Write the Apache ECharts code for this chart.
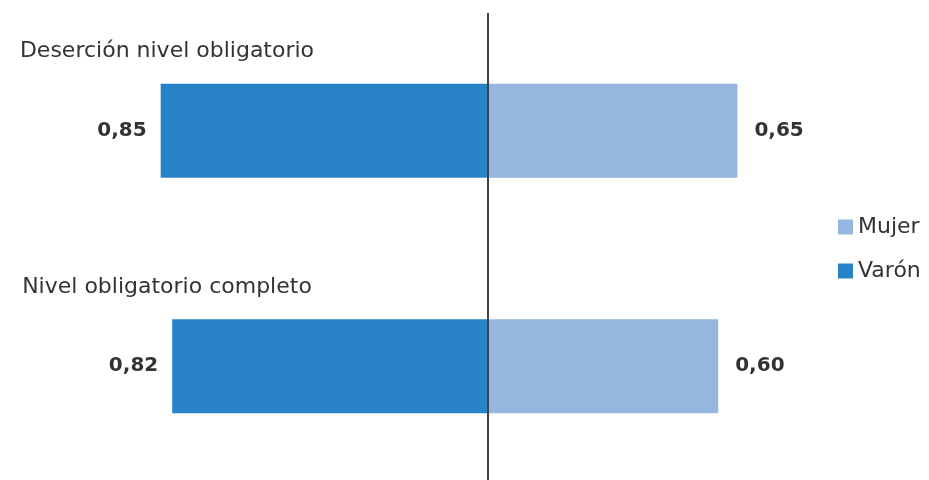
<!DOCTYPE html>
<html>
<head>
<meta charset="utf-8">
<style>html,body{margin:0;padding:0;background:#fff;overflow:hidden}#c{width:929px;height:490px}</style>
<script src="https://cdn.jsdelivr.net/npm/echarts@6/dist/echarts.min.js"></script>
</head>
<body>
<div id="c"></div>
<script>
const categories = ['Deserción nivel obligatorio', 'Nivel obligatorio completo'];
const varon = [0.85, 0.82];
const mujer = [0.65, 0.60];
const seriesNames = ['Mujer', 'Varón'];

const FONT = 'DejaVu Sans';
const fmt = v => Math.abs(v).toFixed(2).replace('.', ',');

const chart = echarts.init(document.getElementById('c'));
chart.setOption({
  animation: false,
  textStyle: { fontFamily: FONT },
  grid: { left: 103, width: 769, top: 13, height: 471, containLabel: false },
  legend: {
    orient: 'vertical', left: 838, top: 216, padding: 0,
    data: seriesNames,
    itemWidth: 15, itemHeight: 15, itemGap: 22,
    icon: 'rect',
    textStyle: { fontSize: 22, color: '#333', fontFamily: FONT }
  },
  xAxis: {
    type: 'value', min: -1, max: 1,
    show: false
  },
  yAxis: {
    type: 'category', inverse: true, data: categories,
    axisLine: { show: false }, axisTick: { show: false },
    axisLabel: {
      margin: -64, align: 'center', verticalAlign: 'bottom',
      padding: [0, 0, 68, 0],
      fontSize: 22, color: '#333', fontFamily: FONT
    }
  },
  series: [
    {
      name: 'Varón', type: 'bar', barWidth: 94, barGap: '-100%',
      data: varon.map(v => -v),
      itemStyle: { color: '#2882C8' },
      label: { show: true, position: 'left', distance: 14, formatter: p => fmt(p.value),
        fontSize: 20, fontWeight: 'bold', color: '#333', fontFamily: FONT },
      markLine: {
        silent: true, symbol: 'none', label: { show: false },
        lineStyle: { color: '#444', width: 2, type: 'solid' },
        data: [{ xAxis: 0 }]
      }
    },
    {
      name: 'Mujer', type: 'bar', barWidth: 94,
      data: mujer,
      itemStyle: { color: '#96B6E0' },
      label: { show: true, position: 'right', distance: 17, formatter: p => fmt(p.value),
        fontSize: 20, fontWeight: 'bold', color: '#333', fontFamily: FONT }
    }
  ]
});
</script>
</body>
</html>
